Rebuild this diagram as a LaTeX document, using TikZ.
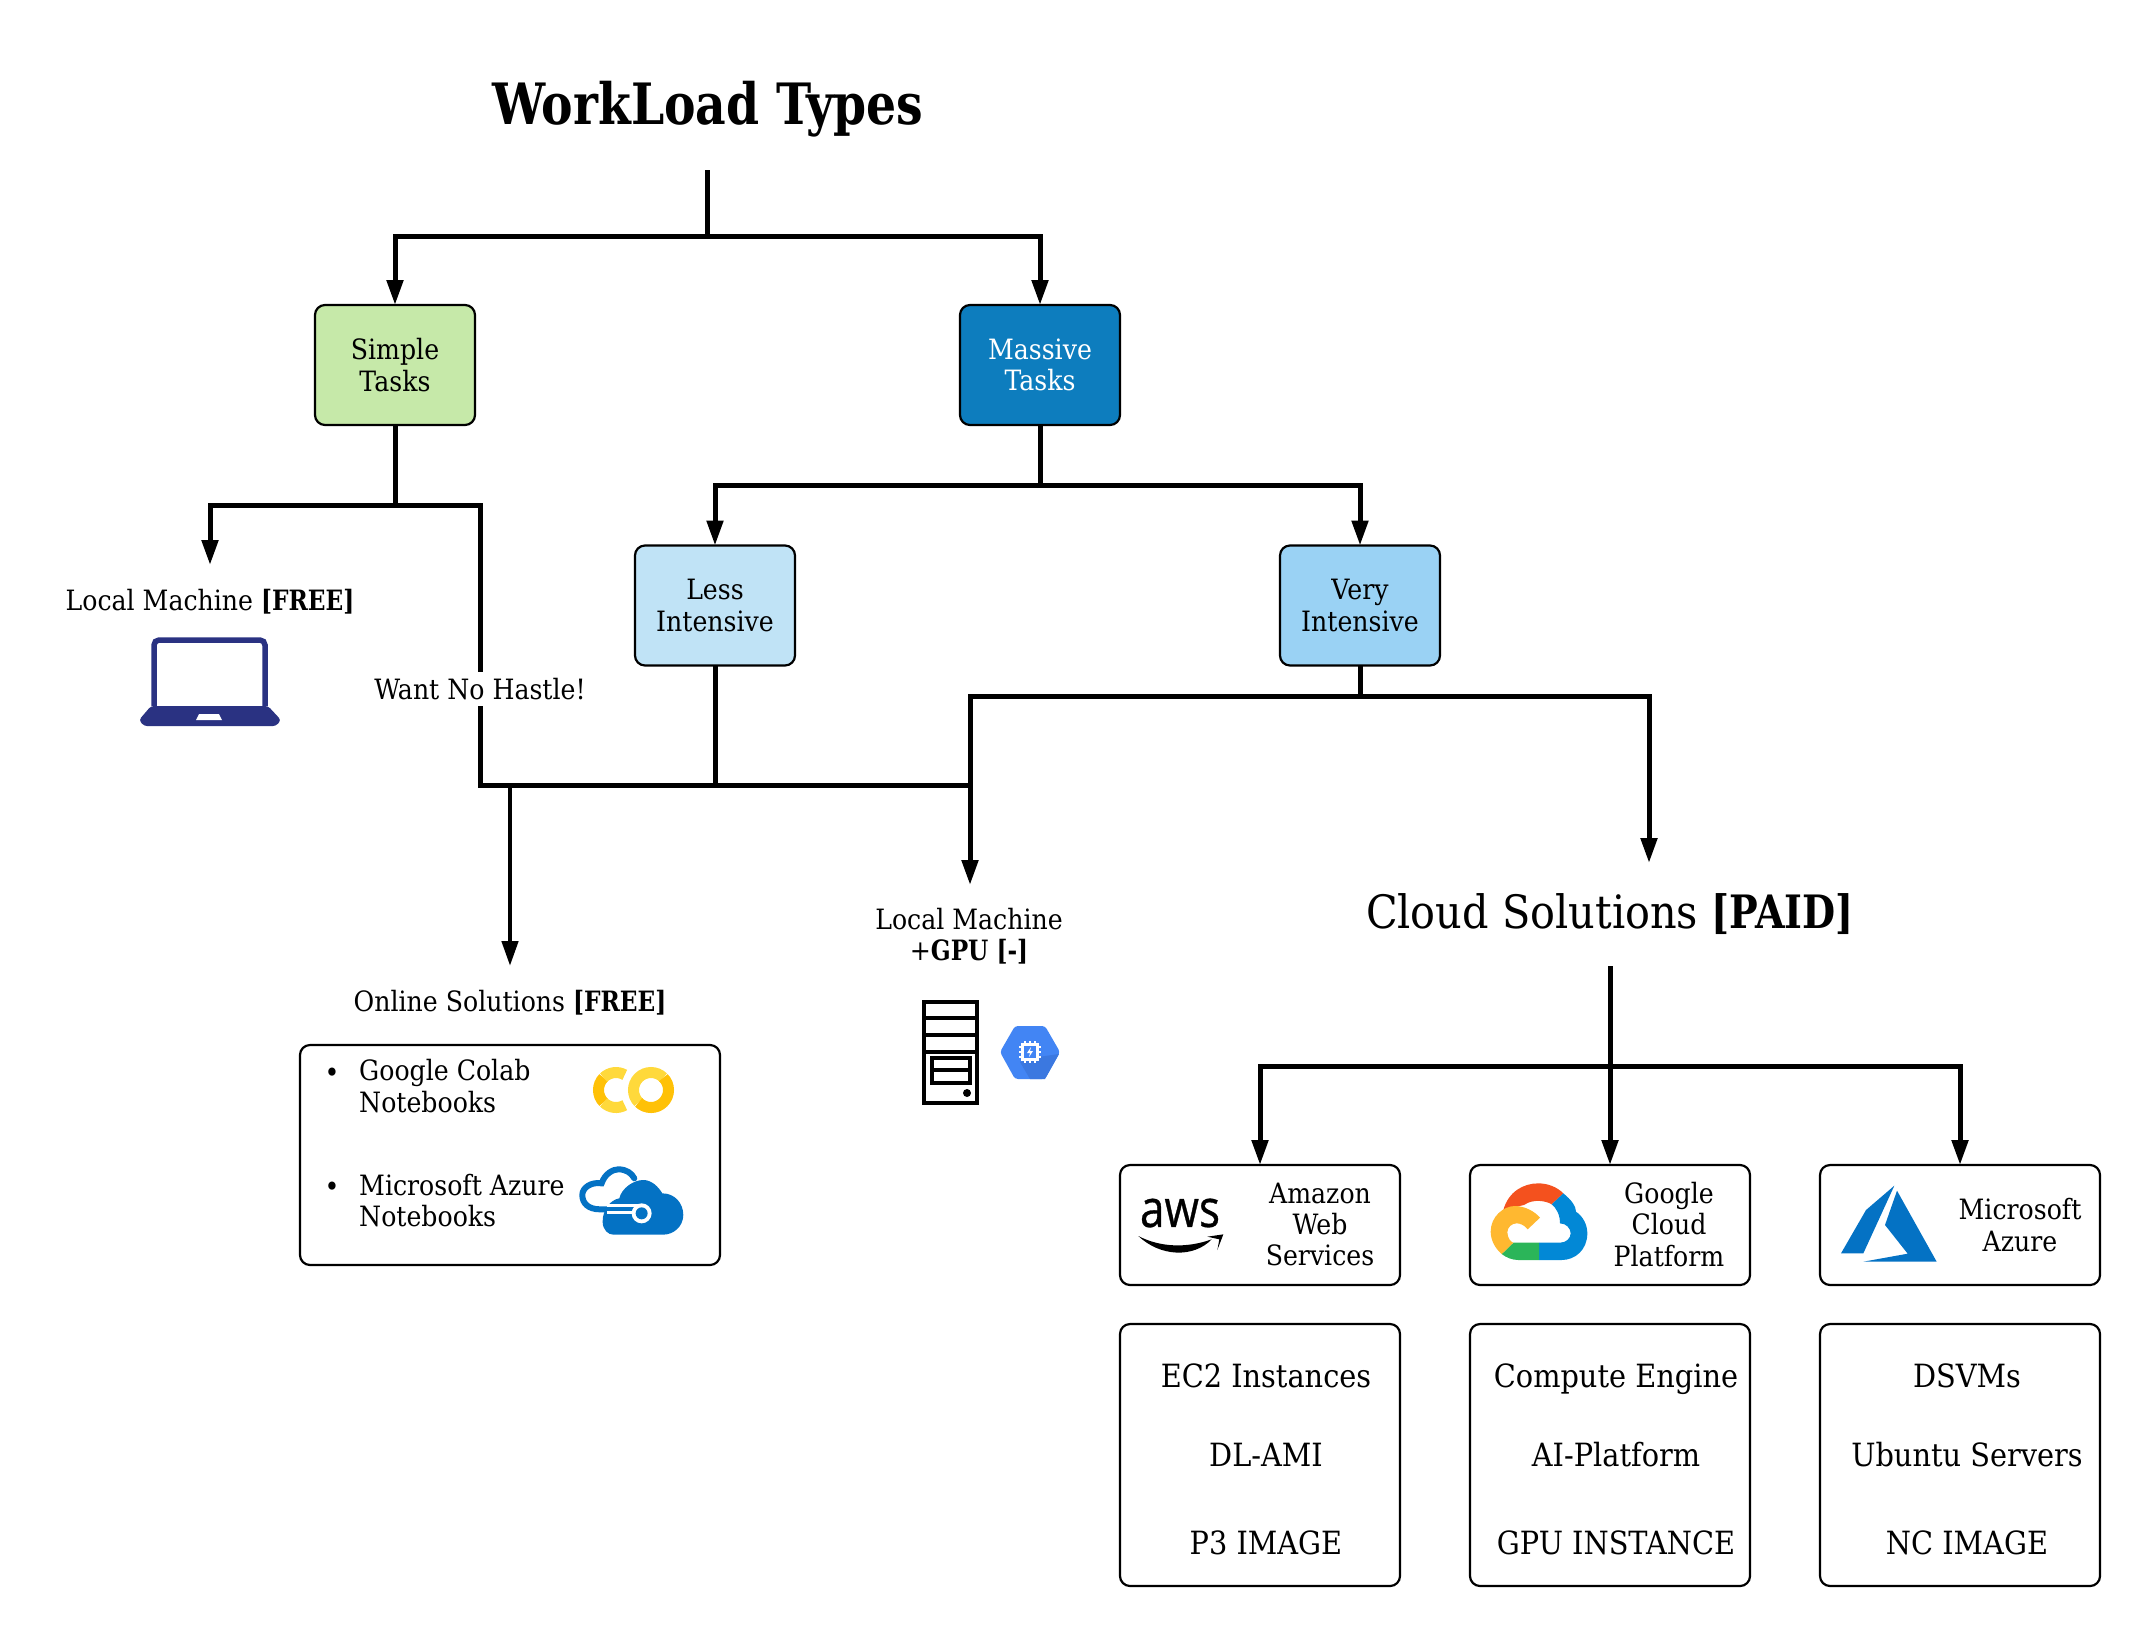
\documentclass[tikz,border=0pt]{standalone}
\usepackage{fontspec}
\setmainfont[FakeStretch=0.9,BoldFeatures={FakeStretch=0.83}]{DejaVu Serif}
\newfontfamily\awsfont[FakeStretch=0.85,FakeBold=0.6]{Open Sans}
\usetikzlibrary{arrows.meta,positioning,calc}

\definecolor{simplegreen}{HTML}{C6E9A9}
\definecolor{massiveblue}{HTML}{0D7DBE}
\definecolor{lessblue}{HTML}{C0E3F6}
\definecolor{veryblue}{HTML}{9AD2F4}
\definecolor{laptopblue}{HTML}{2A3282}
\definecolor{azureblue}{HTML}{0472C4}
\definecolor{gcpblue}{HTML}{4285F4}
\definecolor{gcpshade}{HTML}{3B78E0}
\definecolor{colabdark}{HTML}{FFC107}
\definecolor{colablight}{HTML}{FFD93B}
\definecolor{cloudred}{HTML}{F4511E}
\definecolor{cloudblue}{HTML}{0288D6}
\definecolor{cloudgreen}{HTML}{2BB559}
\definecolor{cloudyellow}{HTML}{FFB830}

\tikzset{
  flow/.style={line width=5pt, black},
  flowtip/.style={flow, -{Triangle[length=25pt,width=16pt]}},
  taskbox/.style={draw=black, line width=2.2pt, rounded corners=10pt, minimum width=160pt,
    minimum height=120pt, align=center, inner sep=0pt, outer sep=0pt, font=\fontsize{28}{31.4}\selectfont},
  cardbox/.style={draw=black, line width=2.2pt, rounded corners=10pt, minimum width=280pt,
    inner sep=0pt, outer sep=0pt},
  smalltext/.style={align=center, inner sep=0pt, font=\fontsize{28}{31.4}\selectfont},
  midtext/.style={align=center, inner sep=0pt, text height=24pt, text depth=7pt, font=\fontsize{32}{36}\selectfont}
}

\begin{document}
\begin{tikzpicture}[x=1pt,y=-1pt]
  \useasboundingbox (0,0) rectangle (2140,1626);

  % Title
  \node[inner sep=0pt, font=\fontsize{57}{64}\selectfont\bfseries] (title) at (708,109) {WorkLoad Types};
  \coordinate (titlefoot) at (707,170);
  \coordinate (rootjoin) at (707,236);

  % Task boxes
  \node[taskbox, fill=simplegreen] (simple) at (395,365) {Simple\\Tasks};
  \node[taskbox, fill=massiveblue, text=white] (massive) at (1040,365) {Massive\\Tasks};
  \node[taskbox, fill=lessblue] (less) at (715,605.5) {Less\\Intensive};
  \node[taskbox, fill=veryblue] (very) at (1360,605.5) {Very\\Intensive};

  % Labels
  \node[smalltext] (localfree) at (210,602) {Local Machine \textbf{[FREE]}};
  \node[smalltext] (onlinefree) at (510,1003) {Online Solutions \textbf{[FREE]}};
  \node[smalltext] (localgpu) at (969,936) {Local Machine\\+\textbf{GPU [-]}};
  \node[inner sep=0pt, font=\fontsize{46}{50}\selectfont] (cloudpaid) at (1610,914) {Cloud Solutions \textbf{[PAID]}};

  % Junctions and free ends
  \coordinate (simplejoin) at (395,505);
  \coordinate (localtip) at (210,565);
  \coordinate (hastlecorner) at (480,785);
  \coordinate (lessdrop) at (715,785);
  \coordinate (gpudrop) at (970,785);
  \coordinate (onlinedrop) at (510,785);
  \coordinate (onlinetip) at (510,966);
  \coordinate (massivejoin) at (1040,485);
  \coordinate (veryjoin) at (1360,696);
  \coordinate (gputip) at (970,885);
  \coordinate (cloudtip) at (1649,863);
  \coordinate (cloudfoot) at (1610,966);
  \coordinate (cloudjoin) at (1610,1066);

  % Provider cards
  \node[cardbox, minimum height=120pt] (aws) at (1260,1225) {};
  \node[cardbox, minimum height=120pt] (gcp) at (1610,1225) {};
  \node[cardbox, minimum height=120pt] (azure) at (1960,1225) {};
  \node[cardbox, minimum height=262pt] (awslist) at (1260,1455) {};
  \node[cardbox, minimum height=262pt] (gcplist) at (1610,1455) {};
  \node[cardbox, minimum height=262pt] (azurelist) at (1960,1455) {};

  % Connectors
  \draw[flow] (titlefoot) -- (rootjoin);
  \draw[flowtip] (rootjoin) -| (simple.north);
  \draw[flowtip] (rootjoin) -| (massive.north);
  \draw[flow] (simple.south) -- (simplejoin);
  \draw[flowtip] (simplejoin) -| (localtip);
  \draw[flow] (simplejoin) -| (hastlecorner) -- (lessdrop);
  \draw[flow] (massive.south) -- (massivejoin);
  \draw[flowtip] (massivejoin) -| (less.north);
  \draw[flowtip] (massivejoin) -| (very.north);
  \draw[flow] (less.south) -- (lessdrop) -- (gpudrop);
  \draw[flow] (very.south) -- (veryjoin);
  \draw[flowtip] (veryjoin) -| (gputip);
  \draw[flowtip] (veryjoin) -| (cloudtip);
  \draw[flowtip, line width=4.5pt] (onlinedrop) -- (onlinetip);
  \draw[flow] (cloudfoot) -- (cloudjoin);
  \draw[flowtip] (cloudjoin) -| (aws.north);
  \draw[flowtip] (cloudjoin) -| (gcp.north);
  \draw[flowtip] (cloudjoin) -| (azure.north);
  \node[smalltext, fill=white, inner ysep=6pt] (hastle) at (480,689) {Want No Hastle!};

  % Laptop
  \draw[laptopblue, line width=5.5pt, rounded corners=5pt] (154,706) -- (154,640) -- (265,640) -- (265,706);
  \fill[laptopblue, rounded corners=3pt] (151,706) -- (268,706) -- (281,720) -- (276,726) -- (144,726) -- (139,720) -- cycle;
  \fill[white] (199,714) -- (219,714) -- (222,720) -- (196,720) -- cycle;

  % Server
  \draw[black, line width=4pt] (924,1002) rectangle (977,1103);
  \foreach \divy in {1018,1035,1052}
    \draw[black, line width=4pt] (924,\divy) -- (977,\divy);
  \draw[black, line width=4pt] (932,1058) rectangle (970,1083);
  \draw[black, line width=4pt] (932,1070) -- (970,1070);
  \fill[black] (967,1093) circle (4pt);

  % Compute engine hexagon
  \fill[gcpblue, rounded corners=3pt] (1000,1052) -- (1015,1026) -- (1045,1026) -- (1060,1052) -- (1045,1079) -- (1015,1079) -- cycle;
  \fill[gcpshade] (1038,1057) -- (1059,1054) -- (1045,1079) -- (1030,1079) -- (1020,1062) -- cycle;
  \fill[white] (1021,1043) rectangle (1039,1061);
  \foreach \pin in {0,5,10}{
    \fill[white] (1019,1046+\pin) rectangle (1041,1048+\pin);
    \fill[white] (1024+\pin,1041) rectangle (1026+\pin,1063);
  }
  \fill[gcpblue] (1024,1046) rectangle (1036,1058);
  \fill[white] (1031,1047) -- (1027,1053) -- (1030,1053) -- (1029,1057) -- (1033,1051) -- (1030,1051) -- cycle;

  % Online solutions
  \node[cardbox, minimum width=420pt, minimum height=220pt] (onlinebox) at (510,1155) {};
  \node[inner sep=0pt, font=\fontsize{28}{31.4}\selectfont] (bulletone) at (332,1075) {•};
  \node[inner sep=0pt, font=\fontsize{28}{31.4}\selectfont] (bullettwo) at (332,1189) {•};
  \node[smalltext, align=left, anchor=west] (colabtext) at (359,1086) {Google Colab\\Notebooks};
  \node[smalltext, align=left, anchor=west] (notebooktext) at (359,1200.5) {Microsoft Azure\\Notebooks};

  % Colab logo
  \draw[colabdark, line width=11pt] (616,1090) ++(135:17.5pt) arc (135:225:17.5pt);
  \draw[colablight, line width=11pt] (616,1090) ++(60:17.5pt) arc (60:135:17.5pt);
  \draw[colablight, line width=11pt] (616,1090) ++(225:17.5pt) arc (225:300:17.5pt);
  \fill[white] (651,1090) circle (26pt);
  \draw[colablight, line width=11pt] (651,1090) ++(45:17.5pt) arc (45:225:17.5pt);
  \draw[colabdark, line width=11pt] (651,1090) ++(225:17.5pt) arc (225:405:17.5pt);

  % Azure notebooks logo
  \begin{scope}[shift={(280,1000)}, x=0.3333pt, y=-0.3333pt]
    \draw[azureblue, line width=6pt, line cap=round] (1065,628) -- (960,628) .. controls (925,628) and (907,610) .. (907,585) .. controls (907,562) and (935,545) .. (965,550) .. controls (975,520) and (1000,508) .. (1015,508) .. controls (1040,508) and (1055,520) .. (1063,535);
    \fill[azureblue] (1000,704) .. controls (985,704) and (968,690) .. (968,665) .. controls (968,630) and (990,600) .. (1018,595) .. controls (1025,565) and (1060,540) .. (1090,540) .. controls (1115,540) and (1135,560) .. (1147,580) .. controls (1185,580) and (1210,610) .. (1210,645) .. controls (1210,680) and (1180,704) .. (1150,704) -- cycle;
    \draw[white, line width=10pt] (980,628) -- (1085,628);
    \draw[azureblue, line width=4pt] (960,628) -- (1085,628);
    \fill[white] (1085,640) circle (10pt);
    \fill[azureblue] (1085,640) circle (6pt);
  \end{scope}

  % Provider texts
  \node[smalltext] (awstext) at (1320,1224.5) {Amazon\\Web\\Services};
  \node[smalltext] (gcptext) at (1669,1224.5) {Google\\Cloud\\Platform};
  \node[smalltext] (azuretext) at (2020,1225) {Microsoft\\Azure};

  % AWS logo
  \node[inner sep=0pt, font=\fontsize{52}{54}\awsfont\selectfont] (awslogo) at (1180,1213) {aws};
  \begin{scope}[shift={(1130,1190)}, x=0.3333pt, y=-0.3333pt]
    \fill[black] (25,138) .. controls (90,172) and (170,175) .. (245,148) .. controls (190,205) and (90,200) .. (25,138) -- cycle;
    \fill[black] (232,140) -- (280,133) -- (262,180) -- (268,148) -- cycle;
  \end{scope}

  % GCP logo
  \begin{scope}[shift={(1480,1170)}, x=0.3333pt, y=-0.3333pt]
    \fill[cloudred] (70,120) .. controls (85,65) and (130,40) .. (175,40) .. controls (205,40) and (232,52) .. (250,70) -- (215,103) .. controls (200,93) and (160,85) .. (132,105) -- (100,112) -- cycle;
    \fill[cloudblue] (250,70) .. controls (275,90) and (288,110) .. (288,125) .. controls (310,140) and (322,165) .. (322,190) .. controls (322,240) and (285,270) .. (245,270) -- (177,270) -- (177,218) -- (240,218) .. controls (258,218) and (272,205) .. (272,190) .. controls (272,175) and (258,160) .. (240,160) .. controls (240,135) and (230,115) .. (215,103) -- cycle;
    \fill[cloudgreen] (65,252) -- (100,218) -- (177,218) -- (177,270) -- (115,270) .. controls (95,270) and (78,262) .. (65,252) -- cycle;
    \fill[cloudyellow] (65,252) .. controls (45,235) and (32,210) .. (32,185) .. controls (32,140) and (70,108) .. (105,108) .. controls (135,108) and (165,125) .. (180,143) -- (143,178) .. controls (133,165) and (120,160) .. (110,160) .. controls (95,160) and (82,172) .. (82,187) .. controls (82,205) and (95,218) .. (100,218) -- cycle;
  \end{scope}

  % Azure logo
  \begin{scope}[shift={(1835,1175)}, x=0.3333pt, y=-0.3333pt]
    \fill[azureblue] (178,32) -- (93,105) -- (18,235) -- (85,235) -- cycle;
    \fill[azureblue] (186,47) -- (150,150) -- (218,236) -- (85,260) -- (305,260) -- cycle;
  \end{scope}

  % Service lists
  \node[midtext] (ectwo) at (1266,1379) {EC2 Instances};
  \node[midtext] (dlami) at (1266,1458) {DL-AMI};
  \node[midtext] (pthree) at (1266,1546) {P3 IMAGE};
  \node[midtext] (compute) at (1616,1379) {Compute Engine};
  \node[midtext] (aiplatform) at (1616,1458) {AI-Platform};
  \node[midtext] (gpuinstance) at (1616,1546) {GPU INSTANCE};
  \node[midtext] (dsvms) at (1967,1379) {DSVMs};
  \node[midtext] (ubuntu) at (1967,1458) {Ubuntu Servers};
  \node[midtext] (ncimage) at (1967,1546) {NC IMAGE};
\end{tikzpicture}
\end{document}
